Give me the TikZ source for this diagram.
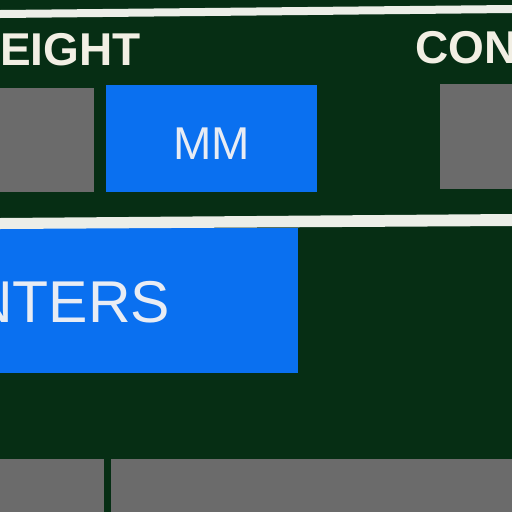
\documentclass[tikz,border=0pt]{standalone}
\usepackage{fontspec}
\setmainfont{Liberation Sans}
\usetikzlibrary{positioning}
\definecolor{panelbg}{RGB}{6,46,20}
\definecolor{tilegray}{RGB}{107,107,107}
\definecolor{tileblue}{RGB}{10,112,240}
\definecolor{rulewhite}{RGB}{236,238,232}
\definecolor{capcream}{RGB}{242,239,228}
\definecolor{btnwhite}{RGB}{232,236,244}
\tikzset{
  tile/.style={draw=none, inner sep=0pt, outer sep=0pt, anchor=north west},
  graytile/.style={tile, fill=tilegray},
  bluetile/.style={tile, fill=tileblue, text=btnwhite},
  rule/.style={fill=rulewhite},
  caption/.style={inner sep=0pt, outer sep=0pt, text=capcream, font=\bfseries\fontsize{46}{46}\selectfont},
  btntext/.style={inner sep=0pt, outer sep=0pt, text=btnwhite}
}
\begin{document}
\begin{tikzpicture}[x=1pt, y=-1pt]
  \clip (0,0) rectangle (512,512);
  \fill[panelbg] (0,0) rectangle (512,512);

  % top row
  \node[graytile, minimum width=114pt, minimum height=104pt] (inbtn) at (-20,88) {};
  \node[bluetile, minimum width=211pt, minimum height=107pt, text height=41pt, text depth=0pt,
        font=\fontsize{46}{46}\selectfont] (mmbtn) at (106,85) {MM};
  \node[graytile, minimum width=90pt, minimum height=105pt] (conbtn) at (440,84) {};
  \node[caption, anchor=base west] (heightlbl) at (0,65) {EIGHT};
  \node[caption, anchor=base west] (conlbl) at (415,63) {CON};

  % unit row
  \node[bluetile, minimum width=498pt, minimum height=145pt] (unitbtn) at (-200,228) {};
  \node[btntext, anchor=base east, font=\fontsize{59}{59}\selectfont] (unitstxt) at (170,322) {NTERS};

  % bottom row
  \node[graytile, minimum width=124pt, minimum height=71pt] (lowa) at (-20,459) {};
  \node[graytile, minimum width=419pt, minimum height=71pt, right=7pt of lowa] (lowb) {};

  % separator rules
  \fill[rule] (0,10) -- (512,5) -- (512,13) -- (0,18) -- cycle;
  \fill[rule] (0,218) -- (512,214) -- (512,226) -- (0,229) -- cycle;
\end{tikzpicture}
\end{document}
